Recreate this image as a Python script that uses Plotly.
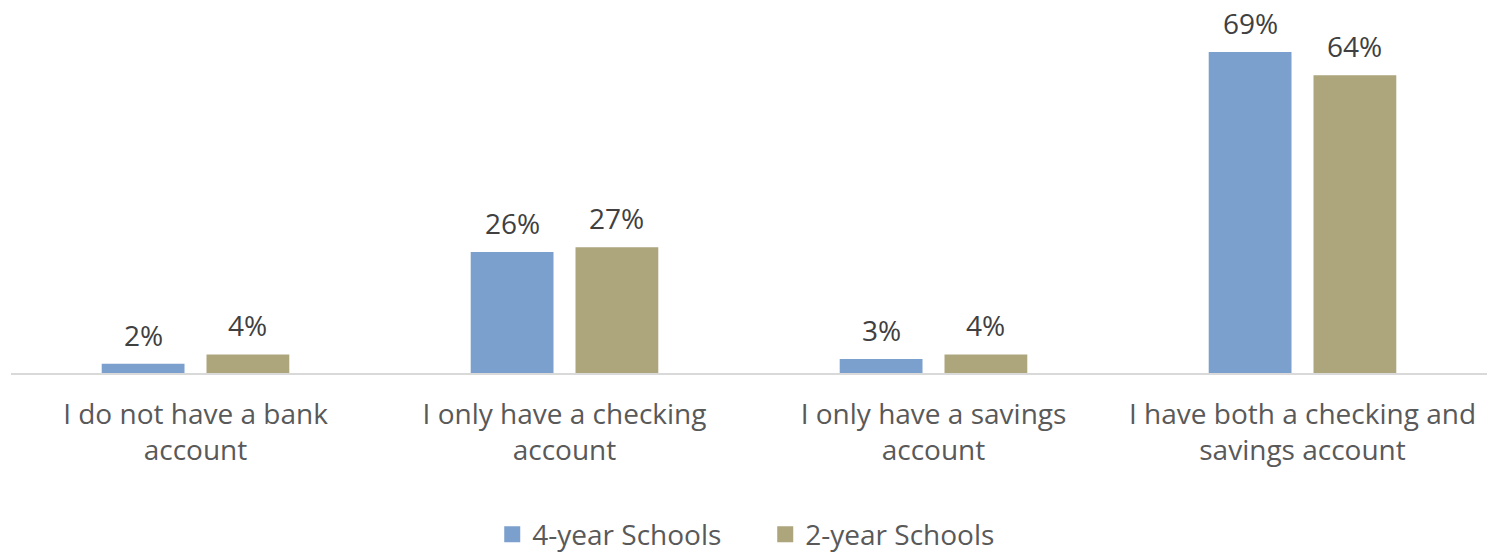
import plotly.graph_objects as go

# Survey responses: share of students by bank account status
categories = [
    "I do not have a bank<br>account",
    "I only have a checking<br>account",
    "I only have a savings<br>account",
    "I have both a checking and<br>savings account",
]
four_year = [2, 26, 3, 69]
two_year = [4, 27, 4, 64]
series_names = ["4-year Schools", "2-year Schools"]

BLUE = "#7BA0CD"
OLIVE = "#ADA57C"
TEXT = "#404040"
TICK_TEXT = "#595959"
FONT = "Open Sans"
FS = 28

fig = go.Figure()
for vals, name, color in ((four_year, series_names[0], BLUE),
                          (two_year, series_names[1], OLIVE)):
    fig.add_trace(go.Bar(x=categories, y=vals, name=name, showlegend=False,
                         marker=dict(color=color, line=dict(width=0))))
# Legend-only entries with larger square swatches
for name, color in ((series_names[0], BLUE), (series_names[1], OLIVE)):
    fig.add_trace(go.Scatter(x=[None], y=[None], mode="markers", name=name,
                             marker=dict(symbol="square", size=16, color=color,
                                         line=dict(width=0))))

# Value labels above each bar, shifted to sit over its bar within the group
W, H = 1487, 552
ML, MR, MT, MB = 11, 0, 10, 179
slot_px = (W - ML - MR) / len(categories)
bargap, bargroupgap = 0.432, 0.21
half_slot = slot_px * (1 - bargap) / 4
for vals, sign in ((four_year, -1), (two_year, 1)):
    for cat, v in zip(categories, vals):
        fig.add_annotation(x=cat, y=v, text=f"{v}%", showarrow=False,
                           xref="x", yref="y", yanchor="bottom",
                           xshift=sign * half_slot, yshift=8,
                           font=dict(family=FONT, size=FS, color=TEXT))

fig.update_layout(
    width=W, height=H,
    margin=dict(l=ML, r=MR, t=MT, b=MB, autoexpand=False),
    paper_bgcolor="white", plot_bgcolor="white",
    barmode="group", bargap=bargap, bargroupgap=bargroupgap,
    font=dict(family=FONT, color=TICK_TEXT),
    showlegend=True,
    legend=dict(orientation="h", x=0.511, xanchor="center", y=-0.445, yanchor="middle",
                font=dict(family=FONT, size=FS, color=TICK_TEXT),
                itemsizing="trace", traceorder="normal",
                entrywidth=228, entrywidthmode="pixels"),
)
fig.update_xaxes(showline=True, linecolor="#D9D9D9", linewidth=2,
                 ticks="outside", ticklen=15, tickcolor="rgba(0,0,0,0)",
                 tickfont=dict(family=FONT, size=FS, color=TICK_TEXT),
                 showgrid=False, zeroline=False, automargin=False)
fig.update_yaxes(range=[0, 78], visible=False, showgrid=False, zeroline=False,
                 automargin=False)

fig.write_html("out.html")
